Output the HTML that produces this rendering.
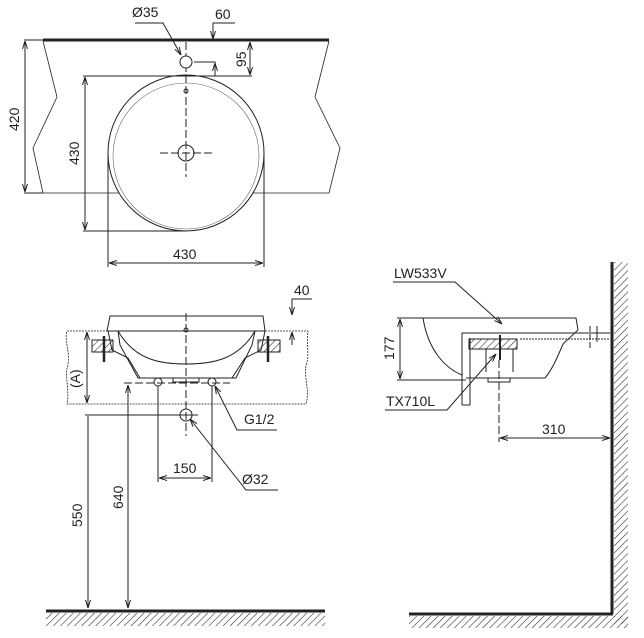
<!DOCTYPE html>
<html><head><style>body{margin:0;background:#fff}svg{display:block}text{font-family:"Liberation Sans",sans-serif;font-size:14px;fill:#222}</style></head><body>
<svg width="644" height="638" viewBox="0 0 644 638" xmlns="http://www.w3.org/2000/svg">
<defs>
<pattern id="h" width="5" height="5" patternUnits="userSpaceOnUse" patternTransform="rotate(45)"><line x1="0" y1="0" x2="0" y2="5" stroke="#333" stroke-width="1.2"/></pattern>
<marker id="a" markerWidth="8" markerHeight="6" refX="8" refY="3" orient="auto-start-reverse" markerUnits="userSpaceOnUse"><path d="M0,0.5 L8,3 L0,5.5" fill="none" stroke="#222" stroke-width="1"/></marker>
</defs>
<g stroke="#222" stroke-width="1" fill="none">
<!-- TOP VIEW -->
<line x1="43" y1="40" x2="329" y2="40" stroke-width="3"/>
<polyline points="43,41 57,97 33,148 43,193 329,193 340,148 315,97 329,41" stroke-width="0.8"/>
<circle cx="186" cy="153" r="78" fill="#fff"/>
<circle cx="186" cy="156" r="73" stroke-width="0.6" stroke="#666"/>
<circle cx="186" cy="153" r="8"/>
<line x1="160" y1="153" x2="212" y2="153" stroke-dasharray="8,3"/>
<line x1="186" y1="42" x2="186" y2="177" stroke-dasharray="8,3"/>
<circle cx="186" cy="91" r="2"/>
<circle cx="186" cy="62" r="6" fill="#fff"/>
<polyline points="135,23 163,23 181,55" marker-end="url(#a)"/>
<polyline points="235,23 213,23 213,39" marker-end="url(#a)"/>
<polyline points="194,62 215,62 215,76"/>
<line x1="215" y1="75" x2="215" y2="63" marker-end="url(#a)"/>
<line x1="83" y1="76" x2="252" y2="76"/>
<line x1="250" y1="42" x2="250" y2="75" marker-start="url(#a)" marker-end="url(#a)"/>
<line x1="24" y1="40" x2="43" y2="40"/><line x1="24" y1="193" x2="43" y2="193"/>
<line x1="25" y1="41" x2="25" y2="192" marker-start="url(#a)" marker-end="url(#a)"/>
<line x1="83" y1="231" x2="186" y2="231"/>
<line x1="85" y1="77" x2="85" y2="230" marker-start="url(#a)" marker-end="url(#a)"/>
<line x1="108" y1="153" x2="108" y2="267"/><line x1="264" y1="153" x2="264" y2="267"/>
<line x1="109" y1="263" x2="263" y2="263" marker-start="url(#a)" marker-end="url(#a)"/>
<!-- FRONT VIEW -->
<path d="M67,331 L308,331 C306,345 310,355 306,365 C304,380 310,390 306,404 L67,404 C70,390 64,375 68,365 C70,350 64,340 67,331 Z" stroke-width="0.8" stroke-dasharray="2,1"/>
<path d="M110,316 L263,316 L265,331 L107,331 Z" fill="#fff"/>
<path d="M118,331 C135,360 160,364 186,364 C212,364 238,360 255,331" />
<path d="M118,331 L120,345 L138,378 L236,378 L252,345 L255,331"/>
<path d="M118,331 L108,331 L112,350 L128,358 L140,378 M255,331 L265,331 L261,350 L245,358 L232,378"/>
<rect x="92" y="340" width="21" height="12" fill="url(#h)"/>
<rect x="258" y="340" width="22" height="12" fill="url(#h)"/>
<line x1="104" y1="336" x2="104" y2="362" stroke-width="2.5"/>
<line x1="268" y1="336" x2="268" y2="362" stroke-width="2.5"/>
<rect x="173" y="378" width="26" height="4"/>
<circle cx="158" cy="382" r="4"/><circle cx="212" cy="382" r="4"/>
<line x1="124" y1="383" x2="230" y2="383" stroke-dasharray="8,3"/>
<circle cx="186" cy="415" r="6"/>
<line x1="186" y1="313" x2="186" y2="436" stroke-dasharray="8,3"/>
<line x1="186" y1="326" x2="186" y2="330" /><circle cx="186" cy="330" r="2"/>
<line x1="85" y1="415" x2="198" y2="415"/>
<line x1="87" y1="332" x2="87" y2="403" marker-start="url(#a)" marker-end="url(#a)"/>
<line x1="158" y1="386" x2="158" y2="482"/><line x1="212" y1="386" x2="212" y2="482"/>
<line x1="159" y1="478" x2="211" y2="478" marker-start="url(#a)" marker-end="url(#a)"/>
<polyline points="312,299 292,299 292,315" marker-end="url(#a)"/>
<line x1="292" y1="345" x2="292" y2="332" marker-end="url(#a)"/>
<polyline points="277,430 237,430 215,386" marker-end="url(#a)"/>
<polyline points="278,490 246,490 190,419" marker-end="url(#a)"/>
<line x1="88" y1="416" x2="88" y2="608" marker-end="url(#a)"/>
<line x1="128" y1="385" x2="128" y2="608" marker-start="url(#a)" marker-end="url(#a)"/>
<line x1="46" y1="611" x2="325" y2="611" stroke-width="3"/>
<rect x="46" y="613" width="279" height="13" fill="url(#h)" stroke="none"/>
<!-- SIDE VIEW -->
<line x1="612" y1="262" x2="612" y2="614" stroke-width="3"/>
<rect x="614" y="262" width="14" height="362" fill="url(#h)" stroke="none"/>
<line x1="409" y1="614" x2="613" y2="614" stroke-width="3"/>
<rect x="409" y="616" width="219" height="12" fill="url(#h)" stroke="none"/>
<path d="M423,318 L576,318 L578,330 L563,344 C558,356 552,370 545,378 L466,378"/>
<path d="M423,318 C428,350 445,368 462,375"/>
<path d="M462,405 L462,333 L610,333"/>
<line x1="470" y1="338" x2="470" y2="405"/>
<line x1="462" y1="405" x2="470" y2="405"/>
<line x1="520" y1="339" x2="610" y2="339" stroke-dasharray="2,1"/>
<line x1="590" y1="326" x2="590" y2="350" stroke-dasharray="6,2"/>
<line x1="597" y1="326" x2="597" y2="342"/>
<rect x="469" y="339" width="48" height="10" fill="url(#h)"/>
<line x1="486" y1="349" x2="486" y2="372"/><line x1="513" y1="349" x2="513" y2="372"/>
<rect x="488" y="378" width="22" height="4"/>
<line x1="500" y1="335" x2="500" y2="360" stroke-width="2"/>
<line x1="499" y1="360" x2="499" y2="442" stroke-dasharray="8,3"/>
<line x1="397" y1="318" x2="423" y2="318"/><line x1="397" y1="380" x2="466" y2="380"/>
<line x1="400" y1="319" x2="400" y2="379" marker-start="url(#a)" marker-end="url(#a)"/>
<line x1="500" y1="438" x2="610" y2="438" marker-start="url(#a)" marker-end="url(#a)"/>
<polyline points="393,282 455,282 502,324" marker-end="url(#a)"/>
<polyline points="385,410 447,410 496,354" marker-end="url(#a)"/>
</g>
<text x="132" y="17">Ø35</text>
<text x="215" y="19">60</text>
<text transform="translate(246,67) rotate(-90)">95</text>
<text transform="translate(19,131) rotate(-90)">420</text>
<text transform="translate(79,165) rotate(-90)">430</text>
<text x="173" y="259">430</text>
<text x="294" y="295">40</text>
<text transform="translate(80,388) rotate(-90)">(A)</text>
<text x="244" y="424">G1/2</text>
<text x="173" y="473">150</text>
<text x="242" y="484">Ø32</text>
<text transform="translate(82,527) rotate(-90)">550</text>
<text transform="translate(123,509) rotate(-90)">640</text>
<text x="394" y="278">LW533V</text>
<text transform="translate(394,360) rotate(-90)">177</text>
<text x="386" y="406">TX710L</text>
<text x="542" y="434">310</text>
</svg>
</body></html>
